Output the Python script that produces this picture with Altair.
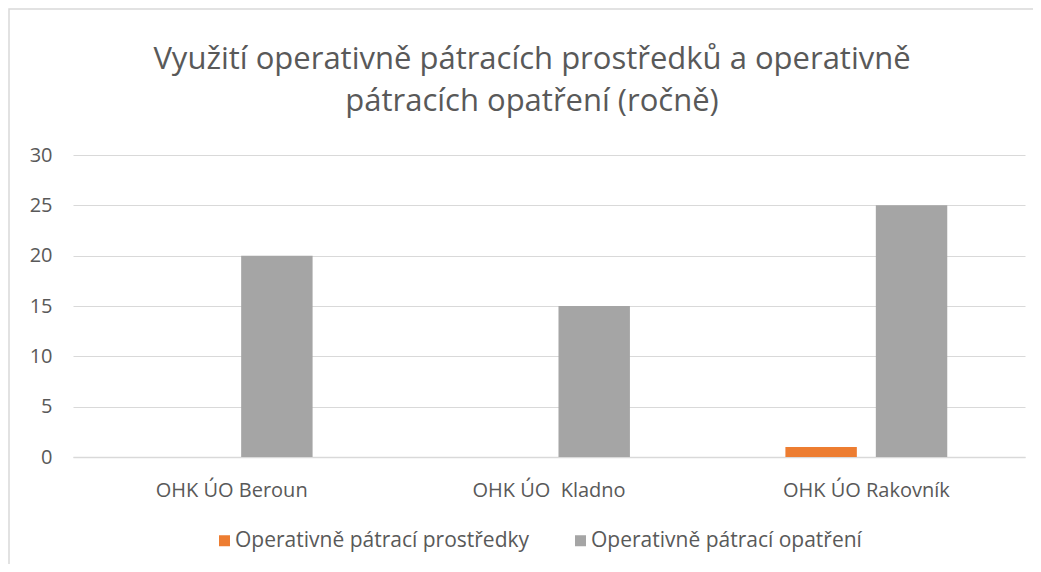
import altair as alt
import pandas as pd

categories = ["OHK ÚO Beroun", "OHK ÚO \u00a0Kladno", "OHK ÚO Rakovník"]
series_names = ["Operativně pátrací prostředky", "Operativně pátrací opatření"]
prostredky = [0, 0, 1]
opatreni = [20, 15, 25]
colors = ["#ED7D31", "#A5A5A5"]
y_ticks = [0, 5, 10, 15, 20, 25, 30]
title_lines = ["Využití operativně pátracích prostředků a operativně", "pátracích opatření (ročně)"]

rows = []
for c, a, b in zip(categories, prostredky, opatreni):
    rows.append({"kategorie": c, "serie": series_names[0], "hodnota": a})
    rows.append({"kategorie": c, "serie": series_names[1], "hodnota": b})
df = pd.DataFrame(rows)

FONT = "Open Sans"
TXT = "#595959"
W, H = 952, 302

border = alt.Chart(pd.DataFrame({"a": [0]})).mark_rect(
    fill=None, stroke="#D9D9D9", strokeWidth=1.5
).encode(
    x=alt.value(-64), x2=alt.value(1100), y=alt.value(-146), y2=alt.value(600)
)

bars = alt.Chart(df).mark_bar().encode(
    x=alt.X("kategorie:N", sort=categories, title=None,
            scale=alt.Scale(paddingInner=0.49, paddingOuter=0.245),
            axis=alt.Axis(labelAngle=0, labelFontSize=20, labelColor=TXT, labelFont=FONT,
                          domainColor="#D9D9D9", domainWidth=1.5, ticks=False,
                          labelPadding=23, grid=False, labelLimit=400)),
    xOffset=alt.XOffset("serie:N", sort=series_names, scale=alt.Scale(paddingInner=0.21)),
    y=alt.Y("hodnota:Q", title=None, scale=alt.Scale(domain=[0, 30], nice=False),
            axis=alt.Axis(values=y_ticks, labelFontSize=20, labelColor=TXT, labelFont=FONT,
                          domain=False, ticks=False, labelPadding=21,
                          gridColor="#D9D9D9", gridWidth=1)),
    color=alt.Color("serie:N", sort=series_names,
                    scale=alt.Scale(domain=series_names, range=colors),
                    legend=alt.Legend(title=None, orient="none", legendX=141, legendY=375,
                                      direction="horizontal", symbolType="square",
                                      symbolSize=121, symbolStrokeWidth=0,
                                      labelFontSize=21, labelFont=FONT, labelColor=TXT,
                                      labelOffset=0, columnPadding=40, labelLimit=500)),
)

chart = alt.layer(border, bars).properties(
    width=W, height=H,
    padding={"left": 65, "top": 147, "right": 8, "bottom": 107},
    autosize="none",
    title=alt.Title(title_lines, fontSize=31, font=FONT, color=TXT, fontWeight="normal",
                    anchor="middle", offset=-110, dx=-17, lineHeight=42),
).configure_view(stroke=None)

chart.save("out.html", embed_options={"renderer": "svg", "actions": False})
